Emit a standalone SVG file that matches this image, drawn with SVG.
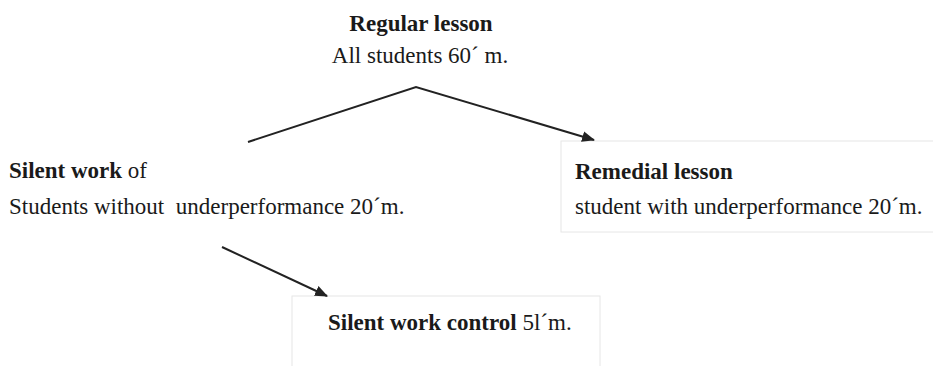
<svg xmlns="http://www.w3.org/2000/svg" width="933" height="366" viewBox="0 0 933 366">
<style>
text{font-family:"Liberation Serif","Times New Roman",serif;font-size:23px;fill:#1a1a1a;white-space:pre}
.b{font-weight:bold}
.box{fill:#fff;stroke:#e6e6e6;stroke-width:1}
.c{stroke:#222;stroke-width:2;fill:none}
</style>
<defs>
<marker id="ah" viewBox="0 0 12 10" refX="11" refY="5" markerWidth="6.5" markerHeight="5.5" orient="auto" markerUnits="strokeWidth">
<path d="M0,0 L12,5 L0,10 z" fill="#222"/>
</marker>
</defs>
<rect width="933" height="366" fill="#fff"/>
<g id="regular">
<text class="b" x="421" y="31" text-anchor="middle">Regular lesson</text>
<text x="420" y="63" text-anchor="middle">All students 60´ m.</text>
</g>
<g id="silent">
<text x="9" y="178"><tspan class="b">Silent work</tspan> of</text>
<text x="9" y="214" xml:space="preserve">Students without  underperformance 20´m.</text>
</g>
<g id="remedial">
<rect class="box" x="561" y="141" width="380" height="91"/>
<text class="b" x="575" y="179">Remedial lesson</text>
<text x="575" y="214">student with underperformance 20´m.</text>
</g>
<g id="control">
<rect class="box" x="292" y="296" width="308" height="80"/>
<text class="b" x="328" y="330">Silent work control <tspan font-weight="normal">5l´m.</tspan></text>
</g>
<g id="connectors">
<polyline class="c" points="248,142 416,87 594,140" marker-end="url(#ah)"/>
<line class="c" x1="222" y1="247" x2="327" y2="296" marker-end="url(#ah)"/>
</g>
</svg>
